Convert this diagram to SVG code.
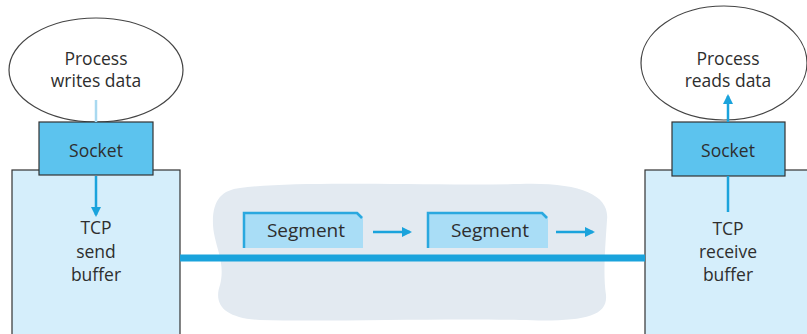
<svg xmlns="http://www.w3.org/2000/svg" width="807" height="334" viewBox="0 0 807 334">
<defs>
<style>
text{font-family:"Open Sans","Noto Sans","Liberation Sans",sans-serif;font-size:17.5px;fill:#2e2e2e;text-anchor:middle}
text.s{font-size:19px}
.ell{fill:#fff;stroke:#444;stroke-width:1.2}
.sock{fill:#5cc3ee;stroke:#333;stroke-width:1.2}
.buf{fill:#d5eefb;stroke:#333;stroke-width:1.2}
.arr{stroke:#1aa3dc;stroke-width:2.5;fill:none}
.seg{fill:#a9ddf6}
.segedge{fill:none;stroke:#2aa8df;stroke-width:2.5}
</style>
<marker id="ah" viewBox="0 0 10 10" refX="8" refY="5" markerWidth="4" markerHeight="4" orient="auto" markerUnits="strokeWidth">
<path d="M0,0 L10,5 L0,10 z" fill="#1aa3dc"/>
</marker>
</defs>
<rect width="807" height="334" fill="#fff"/>
<path id="cloud" d="M240,188 C300,180 420,186 520,184 C580,182 610,195 607,220 C605,250 603,275 606,295 C608,318 580,322 520,320 C440,318 330,322 260,320 C225,318 213,305 220,285 C226,262 214,245 213,225 C212,200 222,190 240,188 z" fill="#e3eaf1"/>
<g id="sender">
<ellipse class="ell" cx="96" cy="70" rx="87" ry="52"/>
<text x="96" y="65">Process</text>
<text x="96" y="87">writes data</text>
<rect class="buf" x="12" y="170" width="168" height="180"/>
<rect class="sock" x="39" y="122" width="114" height="53"/>
<text x="96" y="157">Socket</text>
<text x="96" y="234">TCP</text>
<text x="96" y="258">send</text>
<text x="96" y="281">buffer</text>
</g>
<g id="receiver">
<ellipse class="ell" cx="724" cy="63" rx="83" ry="57"/>
<text x="728" y="65">Process</text>
<text x="728" y="87">reads data</text>
<rect class="buf" x="645" y="170" width="170" height="180"/>
<rect class="sock" x="672" y="122" width="113" height="54"/>
<text x="728" y="157">Socket</text>
<text x="728" y="235">TCP</text>
<text x="728" y="258">receive</text>
<text x="728" y="281">buffer</text>
</g>
<g id="segment1">
<path class="seg" d="M243,212 L358,212 L363,217 L363,248 L243,248 z"/>
<path class="segedge" d="M244,248 L244,213 L357,213 L362,218"/>
<text class="s" x="306" y="237">Segment</text>
</g>
<g id="segment2">
<path class="seg" d="M427,212 L543,212 L548,217 L548,248 L427,248 z"/>
<path class="segedge" d="M428,248 L428,213 L542,213 L547,218"/>
<text class="s" x="490" y="237">Segment</text>
</g>
<g id="connectors">
<line x1="96" y1="100" x2="96" y2="122" stroke="#a9d9f0" stroke-width="2.5"/>
<line class="arr" x1="96" y1="176" x2="96" y2="215" marker-end="url(#ah)"/>
<line class="arr" x1="728" y1="212" x2="728" y2="176"/>
<line class="arr" x1="728" y1="122" x2="728" y2="96" marker-end="url(#ah)"/>
<line x1="180" y1="258" x2="645" y2="258" stroke="#1aa3dc" stroke-width="7"/>
<line class="arr" x1="373" y1="232" x2="410" y2="232" marker-end="url(#ah)"/>
<line class="arr" x1="556" y1="232" x2="593" y2="232" marker-end="url(#ah)"/>
</g>
</svg>
